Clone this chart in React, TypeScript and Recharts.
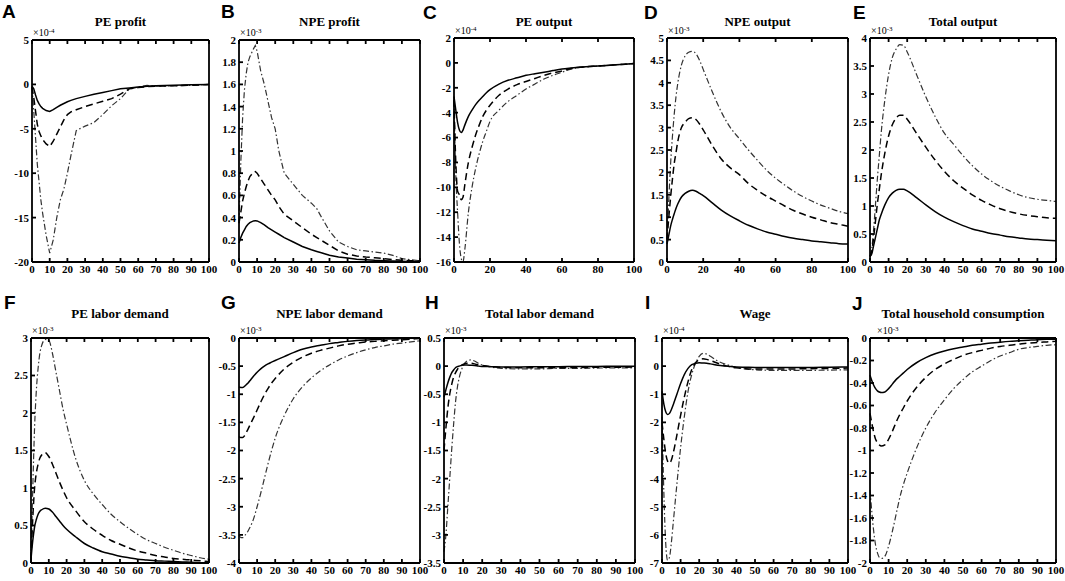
import { LineChart, Line, XAxis, YAxis } from 'recharts';

// common horizon grid (quarters)
const T = [0, 1, 2, 3, 4, 5, 6, 8, 10, 12, 14, 16, 18, 20, 25, 30, 35, 40, 45, 50, 55, 60, 65, 70, 75, 80, 85, 90, 95, 100];

// A: PE profit (x1e-4)
const aX = [0, 1, 2, 3, 4, 5, 6, 8, 10, 12, 14, 16, 18, 20, 22, 25, 30, 35, 40, 45, 50, 55, 60, 65, 70, 80, 90, 100];
const aSolid = [-0.2, -0.5, -1.2, -1.8, -2.2, -2.5, -2.7, -2.95, -3.05, -2.85, -2.6, -2.35, -2.15, -1.95, -1.8, -1.6, -1.35, -1.1, -0.9, -0.7, -0.5, -0.4, -0.3, -0.2, -0.15, -0.1, -0.05, 0];
const aDash = [-0.3, -1.5, -3, -4.5, -5.3, -5.8, -6.2, -6.7, -7, -6.4, -5.6, -4.8, -4.0, -3.4, -3.1, -2.85, -2.5, -2.2, -1.9, -1.6, -1.1, -0.5, -0.35, -0.25, -0.2, -0.15, -0.1, 0];
const aDot = [-0.3, -3, -6, -9, -11, -13, -14.5, -17, -19, -17.5, -15, -13, -11.8, -10, -8, -5.2, -4.7, -4.3, -3.4, -2.4, -1.6, -0.5, -0.3, -0.1, -0.2, -0.15, -0.1, 0];

// B: NPE profit (x1e-3)
const bX = [0, 1, 2, 3, 4, 5, 6, 8, 9, 10, 12, 14, 16, 18, 20, 22, 25, 30, 35, 40, 43, 45, 50, 55, 60, 65, 70, 75, 80, 85, 90, 95, 100];
const bSolid = [0.17, 0.22, 0.26, 0.29, 0.32, 0.34, 0.355, 0.37, 0.372, 0.37, 0.355, 0.335, 0.31, 0.29, 0.27, 0.25, 0.22, 0.18, 0.14, 0.11, 0.095, 0.085, 0.06, 0.045, 0.035, 0.025, 0.02, 0.015, 0.012, 0.009, 0.006, 0.003, 0];
const bDash = [0.35, 0.45, 0.55, 0.62, 0.68, 0.73, 0.77, 0.81, 0.815, 0.8, 0.75, 0.7, 0.65, 0.6, 0.56, 0.5, 0.43, 0.37, 0.31, 0.25, 0.22, 0.2, 0.15, 0.1, 0.07, 0.055, 0.045, 0.038, 0.03, 0.022, 0.015, 0.012, 0.01];
const bDot = [0.35, 0.9, 1.3, 1.55, 1.7, 1.8, 1.85, 1.92, 1.95, 1.9, 1.72, 1.6, 1.45, 1.3, 1.2, 1.0, 0.8, 0.7, 0.6, 0.53, 0.48, 0.42, 0.28, 0.18, 0.14, 0.11, 0.1, 0.09, 0.08, 0.06, 0.03, 0.02, 0.01];

// C: PE output (x1e-4)
const cSolid = [-2.7, -3.8, -4.8, -5.4, -5.6, -5.4, -5.0, -4.3, -3.8, -3.35, -3.0, -2.7, -2.4, -2.15, -1.7, -1.4, -1.2, -1.0, -0.87, -0.75, -0.62, -0.5, -0.42, -0.35, -0.3, -0.25, -0.2, -0.15, -0.1, -0.05];
const cDash = [-3, -8, -10.3, -10.6, -11, -10.8, -9.8, -8, -6.8, -5.8, -5, -4.3, -3.8, -3.4, -2.6, -2.1, -1.75, -1.5, -1.25, -1.0, -0.8, -0.65, -0.45, -0.35, -0.3, -0.25, -0.2, -0.15, -0.1, -0.05];
const cDot = [-3, -9, -12, -14.5, -15.7, -16, -15, -12, -10, -8.5, -7.3, -6.3, -5.5, -4.7, -3.8, -3.1, -2.6, -2.1, -1.7, -1.3, -1.0, -0.75, -0.5, -0.35, -0.3, -0.25, -0.2, -0.15, -0.1, -0.05];

// D: NPE output (x1e-3)
const dSolid = [0.4, 0.6, 0.8, 0.95, 1.08, 1.2, 1.3, 1.45, 1.53, 1.58, 1.6, 1.58, 1.53, 1.48, 1.32, 1.16, 1.03, 0.92, 0.82, 0.74, 0.67, 0.62, 0.57, 0.53, 0.5, 0.47, 0.45, 0.43, 0.41, 0.4];
const dDash = [0.5, 1.0, 1.45, 1.85, 2.2, 2.45, 2.7, 3.0, 3.12, 3.2, 3.22, 3.18, 3.08, 2.95, 2.6, 2.3, 2.1, 1.95, 1.75, 1.6, 1.47, 1.36, 1.25, 1.15, 1.07, 1.0, 0.94, 0.88, 0.84, 0.8];
const dDot = [0.5, 1.4, 2.2, 2.8, 3.3, 3.7, 4.0, 4.4, 4.6, 4.68, 4.7, 4.65, 4.5, 4.3, 3.8, 3.35, 3.0, 2.75, 2.5, 2.27, 2.05, 1.87, 1.72, 1.58, 1.46, 1.36, 1.27, 1.2, 1.13, 1.08];

// E: Total output (x1e-3)
const eSolid = [0.1, 0.15, 0.3, 0.45, 0.6, 0.75, 0.85, 1.02, 1.15, 1.23, 1.28, 1.3, 1.3, 1.27, 1.15, 1.02, 0.9, 0.8, 0.72, 0.65, 0.59, 0.55, 0.51, 0.48, 0.45, 0.43, 0.41, 0.4, 0.39, 0.38];
const eDash = [0.1, 0.2, 0.45, 0.75, 1.05, 1.3, 1.55, 1.95, 2.25, 2.45, 2.57, 2.62, 2.62, 2.55, 2.3, 2.05, 1.82, 1.62, 1.45, 1.32, 1.2, 1.1, 1.02, 0.95, 0.9, 0.86, 0.83, 0.81, 0.79, 0.78];
const eDot = [0.1, 0.25, 0.6, 1.05, 1.5, 1.9, 2.3, 2.9, 3.35, 3.65, 3.8, 3.88, 3.87, 3.75, 3.35, 2.95, 2.6, 2.3, 2.1, 1.9, 1.72, 1.57, 1.45, 1.35, 1.27, 1.2, 1.15, 1.12, 1.1, 1.08];

// F: PE labor demand (x1e-3)
const fSolid = [0.05, 0.3, 0.48, 0.58, 0.65, 0.69, 0.71, 0.73, 0.72, 0.68, 0.62, 0.56, 0.5, 0.45, 0.35, 0.26, 0.2, 0.15, 0.12, 0.09, 0.07, 0.05, 0.04, 0.03, 0.025, 0.02, 0.015, 0.01, 0.005, 0];
const fDash = [0.05, 0.6, 1.0, 1.2, 1.32, 1.4, 1.44, 1.47, 1.42, 1.32, 1.2, 1.08, 0.97, 0.87, 0.7, 0.55, 0.45, 0.37, 0.3, 0.25, 0.2, 0.16, 0.13, 0.1, 0.08, 0.06, 0.05, 0.04, 0.03, 0.02];
const fDot = [0.05, 1.0, 1.8, 2.3, 2.6, 2.8, 2.9, 2.98, 2.97, 2.8, 2.55, 2.3, 2.05, 1.85, 1.4, 1.1, 0.92, 0.78, 0.65, 0.55, 0.46, 0.38, 0.31, 0.26, 0.21, 0.17, 0.13, 0.1, 0.07, 0.05];

// G: NPE labor demand (x1e-3)
const gSolid = [-0.87, -0.88, -0.88, -0.86, -0.83, -0.8, -0.76, -0.68, -0.61, -0.55, -0.5, -0.46, -0.43, -0.4, -0.33, -0.26, -0.2, -0.16, -0.13, -0.1, -0.08, -0.06, -0.045, -0.035, -0.028, -0.02, -0.015, -0.01, -0.005, 0];
const gDash = [-1.75, -1.77, -1.77, -1.74, -1.68, -1.62, -1.55, -1.42, -1.28, -1.14, -1.01, -0.9, -0.8, -0.72, -0.55, -0.43, -0.34, -0.27, -0.22, -0.18, -0.14, -0.11, -0.09, -0.07, -0.06, -0.05, -0.04, -0.03, -0.02, -0.01];
const gDot = [-3.5, -3.55, -3.55, -3.52, -3.48, -3.43, -3.37, -3.22, -3.0, -2.76, -2.5, -2.24, -2.0, -1.78, -1.38, -1.08, -0.87, -0.71, -0.58, -0.48, -0.39, -0.32, -0.26, -0.21, -0.17, -0.14, -0.11, -0.09, -0.07, -0.05];

// H: Total labor demand (x1e-3)
const hX = [0, 1, 2, 3, 4, 5, 6, 7, 8, 10, 12, 14, 16, 18, 20, 25, 30, 40, 50, 60, 70, 80, 90, 100];
const hSolid = [-0.55, -0.42, -0.3, -0.2, -0.12, -0.07, -0.03, -0.01, 0, 0.02, 0.02, 0.015, 0.01, 0, -0.005, -0.01, -0.015, -0.015, -0.01, -0.01, -0.005, -0.005, 0, 0];
const hDash = [-1.5, -1.1, -0.75, -0.5, -0.33, -0.2, -0.12, -0.06, -0.02, 0.03, 0.05, 0.05, 0.04, 0.02, 0.01, -0.01, -0.02, -0.03, -0.03, -0.03, -0.025, -0.02, -0.02, -0.015];
const hDot = [-3.3, -3.0, -2.5, -2.0, -1.5, -1.05, -0.65, -0.38, -0.2, 0, 0.09, 0.11, 0.09, 0.05, 0.02, -0.02, -0.04, -0.05, -0.05, -0.04, -0.04, -0.035, -0.03, -0.03];

// I: Wage (x1e-4)
const iX = [0, 1, 2, 3, 4, 5, 6, 8, 10, 12, 14, 16, 18, 20, 22, 24, 26, 30, 35, 40, 45, 50, 60, 70, 80, 90, 100];
const iSolid = [-0.9, -1.35, -1.62, -1.72, -1.68, -1.55, -1.38, -1.0, -0.62, -0.3, -0.08, 0.05, 0.1, 0.12, 0.11, 0.1, 0.08, 0.03, 0, -0.03, -0.04, -0.05, -0.05, -0.05, -0.05, -0.04, -0.03];
const iDash = [-2.0, -2.6, -3.1, -3.38, -3.45, -3.35, -3.1, -2.45, -1.75, -1.1, -0.55, -0.12, 0.12, 0.23, 0.26, 0.24, 0.2, 0.1, 0, -0.06, -0.09, -0.1, -0.1, -0.1, -0.09, -0.08, -0.07];
const iDot = [-1.8, -4.5, -6.3, -6.9, -6.8, -6.3, -5.6, -4.2, -2.9, -1.8, -0.9, -0.3, 0.1, 0.35, 0.45, 0.43, 0.35, 0.18, 0.05, -0.05, -0.1, -0.13, -0.15, -0.15, -0.15, -0.14, -0.13];

// J: Total household consumption (x1e-3)
const jSolid = [-0.33, -0.38, -0.42, -0.45, -0.47, -0.48, -0.485, -0.48, -0.45, -0.41, -0.37, -0.34, -0.31, -0.28, -0.22, -0.175, -0.14, -0.115, -0.095, -0.08, -0.065, -0.055, -0.045, -0.037, -0.03, -0.025, -0.02, -0.015, -0.012, -0.01];
const jDash = [-0.67, -0.76, -0.84, -0.9, -0.93, -0.95, -0.96, -0.95, -0.9, -0.83, -0.75, -0.68, -0.62, -0.56, -0.44, -0.35, -0.28, -0.23, -0.19, -0.155, -0.13, -0.11, -0.09, -0.075, -0.065, -0.055, -0.045, -0.04, -0.035, -0.03];
const jDot = [-1.35, -1.55, -1.72, -1.84, -1.91, -1.95, -1.96, -1.94, -1.85, -1.72, -1.57, -1.42, -1.3, -1.2, -0.98, -0.8, -0.66, -0.55, -0.45, -0.37, -0.3, -0.25, -0.2, -0.16, -0.13, -0.1, -0.085, -0.075, -0.065, -0.06];

// tick labels
const x10 = [0, 10, 20, 30, 40, 50, 60, 70, 80, 90, 100];
const x20 = [0, 20, 40, 60, 80, 100];

const panels = [
  { id: 'A', title: 'PE profit', exp: '-4', box: [32, 40, 209, 262], x: aX, s: aSolid, d: aDash, dd: aDot, xt: x10, yt: [-20, -15, -10, -5, 0, 5], curve: 'linear' },
  { id: 'B', title: 'NPE profit', exp: '-3', box: [239, 40, 420, 262], x: bX, s: bSolid, d: bDash, dd: bDot, xt: x10, yt: [0, 0.2, 0.4, 0.6, 0.8, 1, 1.2, 1.4, 1.6, 1.8, 2], curve: 'linear' },
  { id: 'C', title: 'PE output', exp: '-4', box: [454, 38, 634, 262], x: T, s: cSolid, d: cDash, dd: cDot, xt: x20, yt: [-16, -14, -12, -10, -8, -6, -4, -2, 0, 2], curve: 'monotone' },
  { id: 'D', title: 'NPE output', exp: '-3', box: [667, 38, 848, 262], x: T, s: dSolid, d: dDash, dd: dDot, xt: x20, yt: [0, 0.5, 1, 1.5, 2, 2.5, 3, 3.5, 4, 4.5, 5], curve: 'monotone' },
  { id: 'E', title: 'Total output', exp: '-3', box: [870, 38, 1056, 262], x: T, s: eSolid, d: eDash, dd: eDot, xt: x10, yt: [0, 0.5, 1, 1.5, 2, 2.5, 3, 3.5, 4], curve: 'monotone' },
  { id: 'F', title: 'PE labor demand', exp: '-3', box: [31, 338, 209, 563], x: T, s: fSolid, d: fDash, dd: fDot, xt: x10, yt: [0, 0.5, 1, 1.5, 2, 2.5, 3], curve: 'monotone' },
  { id: 'G', title: 'NPE labor demand', exp: '-3', box: [239, 338, 420, 563], x: T, s: gSolid, d: gDash, dd: gDot, xt: x10, yt: [-4, -3.5, -3, -2.5, -2, -1.5, -1, -0.5, 0], curve: 'monotone' },
  { id: 'H', title: 'Total labor demand', exp: '-3', box: [444, 338, 635, 563], x: hX, s: hSolid, d: hDash, dd: hDot, xt: x10, yt: [-3.5, -3, -2.5, -2, -1.5, -1, -0.5, 0, 0.5], curve: 'monotone' },
  { id: 'I', title: 'Wage', exp: '-4', box: [662, 338, 848, 563], x: iX, s: iSolid, d: iDash, dd: iDot, xt: x10, yt: [-7, -6, -5, -4, -3, -2, -1, 0, 1], curve: 'monotone' },
  { id: 'J', title: 'Total household consumption', exp: '-3', box: [870, 338, 1056, 563], x: T, s: jSolid, d: jDash, dd: jDot, xt: x10, yt: [-2, -1.8, -1.6, -1.4, -1.2, -1, -0.8, -0.6, -0.4, -0.2, 0], curve: 'monotone' },
];

// panel letter positions and title centre heights per row
const LETTER_POS = { A: [2, 1], B: [221, 1], C: [423, 2], D: [644, 2], E: [853, 2], F: [4, 292], G: [221, 292], H: [425, 292], I: [645, 292], J: [852, 293] };
const TITLE_MID = { top: 22, bottom: 314 };

const SERIF = '"Liberation Serif", "Times New Roman", serif';
const tickStyle = { fontFamily: SERIF, fontWeight: 700, fontSize: 11, fill: '#000' };
const axisLine = { stroke: '#000', strokeWidth: 1.8 };
const noLabel = () => <g />;
const YW = 40;
const XH = 20;
const PAD = 2;

function Panel({ p }) {
  const [x0, y0, x1, y1] = p.box;
  const w = x1 - x0;
  const h = y1 - y0;
  const data = p.x.map((x, i) => ({ x, s: p.s[i], d: p.d[i], dd: p.dd[i] }));
  const ydom = [p.yt[0], p.yt[p.yt.length - 1]];
  const titleMid = y0 < 200 ? TITLE_MID.top : TITLE_MID.bottom;
  return (
    <>
      <div style={{ position: 'absolute', left: LETTER_POS[p.id][0], top: LETTER_POS[p.id][1], fontFamily: '"Liberation Sans", Arial, sans-serif', fontWeight: 700, fontSize: 19, lineHeight: '22px' }}>
        {p.id}
      </div>
      <div style={{ position: 'absolute', left: x0, width: w, top: titleMid - 8, height: 16, lineHeight: '16px', textAlign: 'center', fontFamily: SERIF, fontWeight: 700, fontSize: 13, whiteSpace: 'nowrap' }}>
        {p.title}
      </div>
      <div style={{ position: 'absolute', left: x0 + (p.id === 'J' ? 7 : 1), top: y0 - 13, fontFamily: SERIF, fontSize: 10, lineHeight: '12px' }}>
        ×10<sup style={{ fontSize: 7, verticalAlign: 'top', position: 'relative', top: -2 }}>{p.exp}</sup>
      </div>
      <div style={{ position: 'absolute', left: x0 - YW, top: y0 - PAD - 1 }}>
        <LineChart width={w + YW + PAD + 1} height={h + XH + PAD + 1} data={data} margin={{ top: PAD, right: PAD, bottom: 0, left: 0 }}>
          <XAxis xAxisId="b" dataKey="x" type="number" domain={[0, 100]} ticks={p.xt} interval={0} height={XH}
            tick={tickStyle} tickSize={-4} tickMargin={7} axisLine={axisLine} tickLine={axisLine} />
          <XAxis xAxisId="t" orientation="top" dataKey="x" type="number" domain={[0, 100]} ticks={p.xt} interval={0} height={1}
            tick={noLabel} tickSize={-4} axisLine={axisLine} tickLine={axisLine} />
          <YAxis yAxisId="l" type="number" domain={ydom} ticks={p.yt} interval={0} width={YW}
            tick={tickStyle} tickSize={-4} tickMargin={7} axisLine={axisLine} tickLine={axisLine} />
          <YAxis yAxisId="r" orientation="right" type="number" domain={ydom} ticks={p.yt} interval={0} width={1}
            tick={noLabel} tickSize={-4} axisLine={axisLine} tickLine={axisLine} />
          <Line xAxisId="b" yAxisId="l" type={p.curve} dataKey="dd" stroke="#333" strokeWidth={1.2} strokeDasharray="6 2.5 1.5 2.5" dot={false} isAnimationActive={false} />
          <Line xAxisId="b" yAxisId="l" type={p.curve} dataKey="d" stroke="#000" strokeWidth={1.5} strokeDasharray="7 4" dot={false} isAnimationActive={false} />
          <Line xAxisId="b" yAxisId="l" type={p.curve} dataKey="s" stroke="#000" strokeWidth={1.5} dot={false} isAnimationActive={false} />
        </LineChart>
      </div>
    </>
  );
}

export default function App() {
  return (
    <div style={{ position: 'absolute', left: 0, top: 0, width: 1065, height: 581, background: '#fff' }}>
      <style>{'.recharts-surface{overflow:visible}'}</style>
      {panels.map((p) => (
        <Panel key={p.id} p={p} />
      ))}
    </div>
  );
}
